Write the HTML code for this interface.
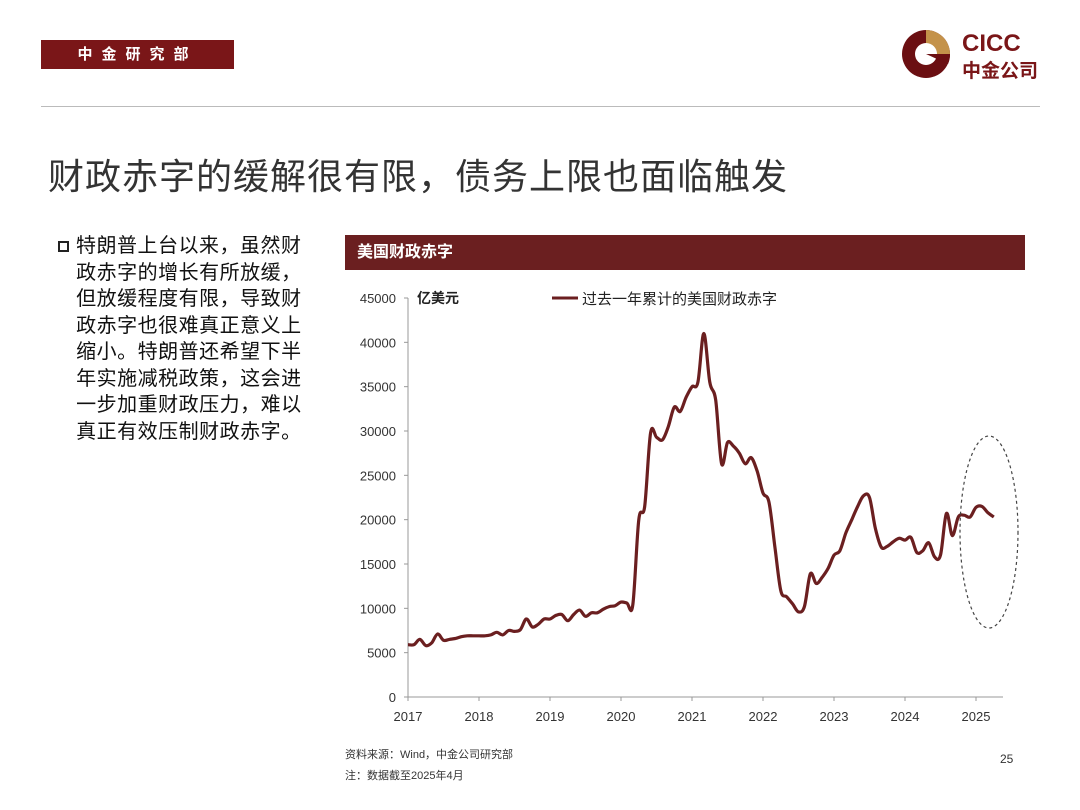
<!DOCTYPE html>
<html><head><meta charset="utf-8">
<style>
body{margin:0;width:1080px;height:810px;background:#fff;position:relative;overflow:hidden;font-family:"Liberation Sans","Noto Sans CJK SC",sans-serif;}
.abs{position:absolute;}
</style></head><body>
<div class="abs" style="left:41px;top:40px;width:193px;height:29px;background:#7a1618;color:#fff;font-size:15px;font-weight:bold;line-height:29px;text-align:center;letter-spacing:9px;">中金研究部</div>
<div class="abs" style="left:898px;top:24px;width:150px;height:60px;">
<svg width="60" height="60"><circle cx="28" cy="30" r="24" fill="#6b0f12"/><path d="M28 6 A24 24 0 0 1 52 30 L28 30 Z" fill="#c4924a"/><circle cx="28" cy="30" r="11" fill="#fff"/><path d="M28 30 L52 30 A24 24 0 0 1 50 40 L28 30Z" fill="#6b0f12"/></svg>
<div class="abs" style="left:64px;top:6px;font-size:24px;font-weight:bold;color:#7a1618;">CICC</div>
<div class="abs" style="left:64px;top:32px;font-size:19px;font-weight:bold;color:#7a1618;">中金公司</div>
</div>
<div class="abs" style="left:41px;top:106px;width:999px;height:1px;background:#bbb;"></div>
<div class="abs" style="left:48px;top:148px;font-size:36px;color:#333;letter-spacing:1px;">财政赤字的缓解很有限，债务上限也面临触发</div>
<div class="abs" style="left:58px;top:233px;width:270px;font-size:20px;line-height:26.5px;color:#111;letter-spacing:0.5px;white-space:nowrap;">
<span style="display:inline-block;width:11px;height:11px;border:2px solid #222;box-sizing:border-box;margin-right:7px;"></span>特朗普上台以来，虽然财<br>&nbsp;&nbsp;&nbsp;政赤字的增长有所放缓，<br>&nbsp;&nbsp;&nbsp;但放缓程度有限，导致财<br>&nbsp;&nbsp;&nbsp;政赤字也很难真正意义上<br>&nbsp;&nbsp;&nbsp;缩小。特朗普还希望下半<br>&nbsp;&nbsp;&nbsp;年实施减税政策，这会进<br>&nbsp;&nbsp;&nbsp;一步加重财政压力，难以<br>&nbsp;&nbsp;&nbsp;真正有效压制财政赤字。</div>
<div class="abs" style="left:345px;top:235px;width:680px;height:35px;background:#6b1f20;color:#fff;font-size:16px;font-weight:bold;line-height:35px;padding-left:12px;box-sizing:border-box;">美国财政赤字</div>
<svg class="abs" style="left:0;top:0" width="1080" height="810" id="chart"></svg>
<div class="abs" style="left:345px;top:746px;font-size:11px;color:#333;">资料来源：Wind，中金公司研究部</div>
<div class="abs" style="left:345px;top:767px;font-size:11px;color:#333;">注：数据截至2025年4月</div>
<div class="abs" style="left:1000px;top:752px;font-size:12px;color:#333;">25</div>
<script>
const yTicks=[0,5000,10000,15000,20000,25000,30000,35000,40000,45000];
const xYears=[2017,2018,2019,2020,2021,2022,2023,2024,2025];
const startYear=2017;
const deficit2017=[5.9,5.9,6.5,5.8,6.1,7.1,6.4,6.5,6.6,6.8,6.9,6.9];
const deficit2018=[6.9,6.9,7.0,7.3,7.0,7.5,7.4,7.6,8.8,7.9,8.2,8.8];
const deficit2019=[8.8,9.2,9.3,8.6,9.3,9.8,9.1,9.5,9.5,9.9,10.2,10.3];
const deficit2020=[10.7,10.6,10.4,20.0,21.5,29.8,29.3,29.0,30.5,32.7,32.2,33.8];
const deficit2021=[35.0,35.5,41.0,35.5,33.5,26.3,28.7,28.3,27.5,26.3,27.0,25.5];
const deficit2022=[23.0,22.0,17.0,12.0,11.3,10.5,9.6,10.2,13.9,12.8,13.5,14.5];
const deficit2023=[16.0,16.5,18.5,20.0,21.5,22.7,22.5,19.0,16.9,17.0,17.5,17.9];
const deficit2024=[17.7,18.0,16.3,16.5,17.4,15.8,16.0,20.7,18.2,20.3,20.5,20.3];
const deficit2025=[21.4,21.5,20.8,20.3];
const values=[].concat(deficit2017,deficit2018,deficit2019,deficit2020,deficit2021,deficit2022,deficit2023,deficit2024,deficit2025).map(v=>v*1000);
const svg=document.getElementById('chart');const NS='http://www.w3.org/2000/svg';
const X0=408,PXY=71,Y0=697,Y1=298,YMAX=45000;
const xs=t=>X0+(t-startYear)*PXY;
const ys=v=>Y0-(v/YMAX)*(Y0-Y1);
function mk(tag,attrs){const e=document.createElementNS(NS,tag);for(const k in attrs)e.setAttribute(k,attrs[k]);svg.appendChild(e);return e;}
let e=mk('line',{x1:X0,y1:Y1,x2:X0,y2:Y0,stroke:'#999'});


e=mk('line',{x1:X0,y1:Y0,x2:1003,y2:Y0,stroke:'#999'});


yTicks.forEach(v=>{
 const t=mk('line',{x1:X0-4,y1:ys(v),x2:X0,y2:ys(v),stroke:'#999'});
 
 
 const l=mk('text',{x:X0-12,y:ys(v)+5,'text-anchor':'end','font-size':13,fill:'#333'});l.textContent=v;
 
 
});
xYears.forEach(yr=>{
 const t=mk('line',{x1:xs(yr),y1:Y0,x2:xs(yr),y2:Y0+4,stroke:'#999'});
 
 
 const l=mk('text',{x:xs(yr),y:Y0+24,'text-anchor':'middle','font-size':13,fill:'#333'});l.textContent=yr;
 
 
});
const u=mk('text',{x:417,y:303,'font-size':14,'font-weight':'bold',fill:'#222'});u.textContent='亿美元';


const P=values.map((v,i)=>[xs(startYear+i/12),ys(v)]);
let d='M'+P[0][0].toFixed(1)+','+P[0][1].toFixed(1);
for(let i=0;i<P.length-1;i++){
 const p0=P[Math.max(0,i-1)],p1=P[i],p2=P[i+1],p3=P[Math.min(P.length-1,i+2)];
 const c1=[p1[0]+(p2[0]-p0[0])/6,p1[1]+(p2[1]-p0[1])/6],c2=[p2[0]-(p3[0]-p1[0])/6,p2[1]-(p3[1]-p1[1])/6];
 d+=` C${c1[0].toFixed(1)},${c1[1].toFixed(1)} ${c2[0].toFixed(1)},${c2[1].toFixed(1)} ${p2[0].toFixed(1)},${p2[1].toFixed(1)}`;
}
const pl=mk('path',{d:d,fill:'none',stroke:'#6b1f20','stroke-width':3.2,'stroke-linejoin':'round'});


const lg=mk('line',{x1:552,y1:298,x2:578,y2:298,stroke:'#6b1f20','stroke-width':3});


const lt=mk('text',{x:582,y:304,'font-size':15,fill:'#222'});lt.textContent='过去一年累计的美国财政赤字';


const el=mk('ellipse',{cx:989,cy:532,rx:29,ry:96,fill:'none',stroke:'#444','stroke-dasharray':'3,3','stroke-width':1.2});


</script>
</body></html>
